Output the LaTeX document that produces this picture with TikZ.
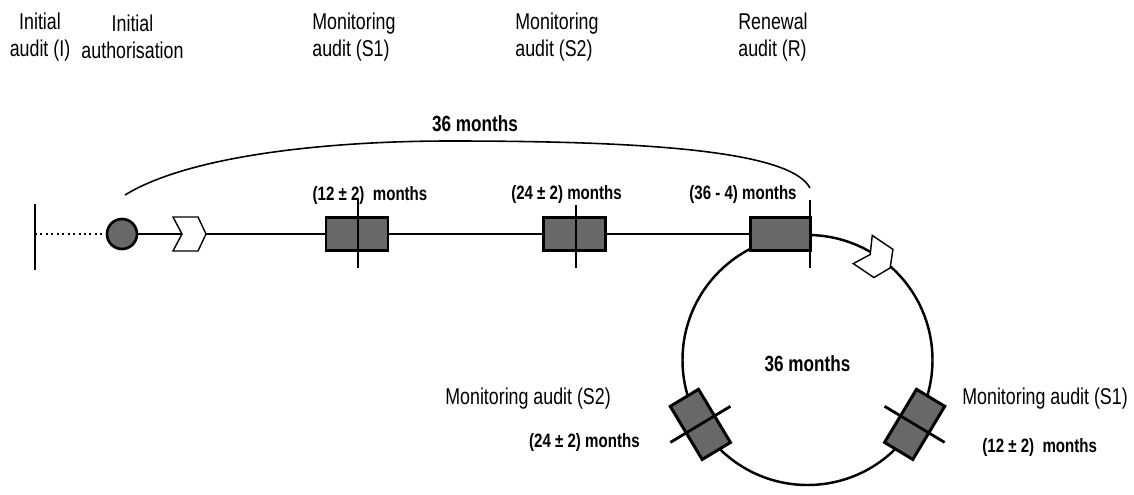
\documentclass[tikz,border=0pt]{standalone}
\usepackage{fontspec}
\setmainfont{Liberation Sans}
\newfontfamily\narrowsans[FakeStretch=0.78]{Liberation Sans}
\usetikzlibrary{calc}
\definecolor{boxgray}{HTML}{686868}

\begin{document}
\begin{tikzpicture}[
  auditbox/.style={draw, line width=1.7pt, fill=boxgray, minimum width=1.24cm, minimum height=0.66cm, inner sep=0pt},
  marker/.style={line width=1.6pt},
  phase/.style={font=\narrowsans\fontsize{13}{15}\selectfont, inner sep=0pt},
  period/.style={font=\narrowsans\bfseries\fontsize{11}{13}\selectfont, inner sep=0pt},
  chevron/.pic={\draw[fill=white, line width=0.8pt] (-0.32,0.34) -- (0.18,0.34) -- (0.34,0) -- (0.18,-0.34) -- (-0.32,-0.34) -- (-0.14,0) -- cycle;}
]
\useasboundingbox (0,0) rectangle (22.68,-9.9);
% phase headings
\node[phase, align=center] (hia) at (0.8,-0.74) {Initial\\audit (I)};
\node[phase, align=center] (hauth) at (2.65,-0.74) {Initial\\authorisation};
\node[phase, align=left, anchor=west] (hs1) at (6.24,-0.74) {Monitoring\\audit (S1)};
\node[phase, align=left, anchor=west] (hs2) at (10.3,-0.74) {Monitoring\\audit (S2)};
\node[phase, align=left, anchor=west] (hr) at (14.76,-0.74) {Renewal\\audit (R)};
% cycle
\node[circle, draw, line width=1.4pt, minimum size=5cm, inner sep=0pt] (cycle) at (16.15,-7.2) {};
% timeline
\coordinate (iamark) at (0.7,-4.68);
\coordinate (rend) at (16.2,-4.68);
\node[circle, draw, line width=1.5pt, fill=boxgray, minimum size=0.6cm, inner sep=0pt] (auth) at (2.44,-4.68) {};
\draw[dotted, line width=1.1pt] (iamark) -- (auth);
\draw[line width=1.3pt] (auth) -- (rend);
\pic (startarrow) at (3.78,-4.68) {chevron};
\pic[rotate=-34] (cyclearrow) at ($(cycle.center)+(56:2.45)$) {chevron};
\node[auditbox] (s1) at (7.14,-4.68) {};
\node[auditbox] (s2) at (11.49,-4.68) {};
\node[auditbox, minimum width=1.2cm] (r) at (15.6,-4.68) {};
\node[auditbox, rotate=59] (cs1) at ($(cycle.center)+(-31:2.5)$) {};
\node[auditbox, rotate=121] (cs2) at ($(cycle.center)+(211:2.5)$) {};
% ticks
\draw[marker] (0.7,-4.08) -- (0.7,-5.4);
\draw[marker] (7.16,-4.0) -- (7.16,-5.36);
\draw[marker] (11.52,-4.1) -- (11.52,-5.36);
\draw[marker] (16.2,-4.0) -- (16.2,-5.36);
\draw[marker] ($(cycle.center)+(-31:1.8)$) -- ($(cycle.center)+(-31:3.2)$);
\draw[marker] ($(cycle.center)+(211:1.8)$) -- ($(cycle.center)+(211:3.2)$);
% 36 month span
\coordinate (arcstart) at (2.5,-3.9);
\coordinate (arctop) at (9.0,-2.82);
\coordinate (arcend) at (16.2,-3.76);
\draw[line width=0.9pt] (arcstart) .. controls (3.8,-3.1) and (6.6,-2.82) .. (arctop) .. controls (12.8,-2.82) and (15.8,-3.0) .. (arcend);
\node[period, font=\narrowsans\bfseries\fontsize{12.5}{14}\selectfont] (span) at (9.5,-2.48) {36 months};
% periods
\node[period] (ps1) at (7.4,-3.92) {(12 ± 2)\ \ months};
\node[period] (ps2) at (11.33,-3.9) {(24 ± 2) months};
\node[period] (pr) at (14.86,-3.9) {(36 - 4) months};
\node[period, font=\narrowsans\bfseries\fontsize{12.5}{14}\selectfont] (cyclespan) at (16.15,-7.28) {36 months};
\node[phase, anchor=west] (ls1) at (19.24,-7.98) {Monitoring audit (S1)};
\node[period, anchor=west] (lps1) at (19.64,-8.94) {(12 ± 2)\ \ months};
\node[phase, anchor=west] (ls2) at (8.9,-7.98) {Monitoring audit (S2)};
\node[period, anchor=east] (lps2) at (12.8,-8.84) {(24 ± 2) months};
\end{tikzpicture}
\end{document}
